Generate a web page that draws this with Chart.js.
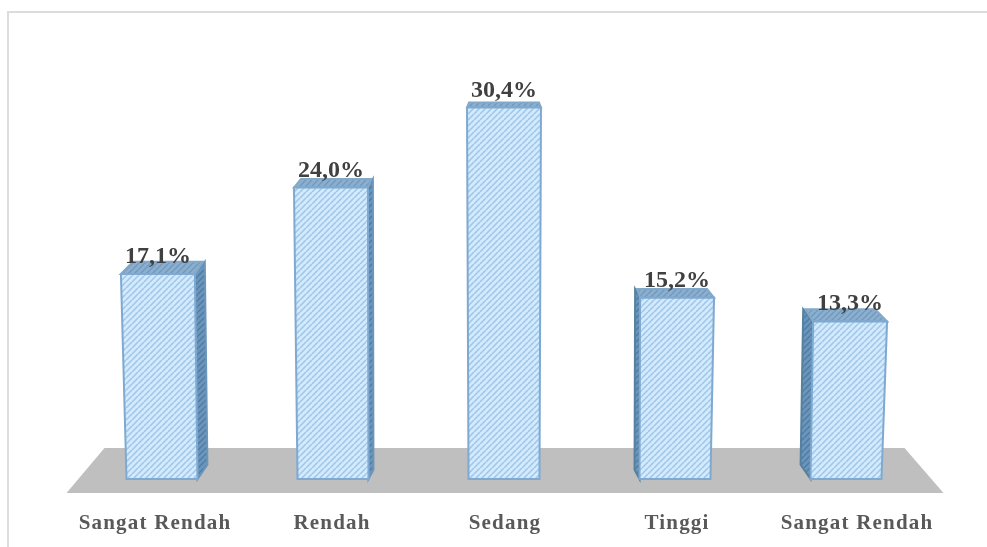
<!DOCTYPE html>
<html>
<head>
<meta charset="utf-8">
<script src="https://cdn.jsdelivr.net/npm/chart.js@4"></script>
<style>
html, body { margin: 0; padding: 0; background: #fff; overflow: hidden; }
#canvas-wrapper { position: relative; width: 987px; height: 547px; }
#frame { position: absolute; left: 7px; top: 11px; width: 980px; height: 536px; border-top: 2px solid #dcdcdc; border-left: 2px solid #dcdcdc; }
#chart { position: absolute; left: 0; top: 0; }
</style>
</head>
<body>
<div id="canvas-wrapper">
    <div id="frame"></div>
    <canvas id="chart" width="987" height="547"></canvas>
</div>
<script>
const categories = ["Sangat Rendah", "Rendah", "Sedang", "Tinggi", "Sangat Rendah"];
const percentValues = [17.1, 24.0, 30.4, 15.2, 13.3];
const labelNudge = [-7, -1, 1, 2, 11];

const serif = '"Liberation Serif", serif';

function hatch(bg, stripe) {
    const size = 6;
    const c = document.createElement("canvas");
    c.width = size;
    c.height = size;
    const g = c.getContext("2d");
    g.fillStyle = bg;
    g.fillRect(0, 0, size, size);
    g.strokeStyle = stripe;
    g.lineWidth = 1.5;
    [-size, 0, size].forEach(a => {
        g.beginPath();
        g.moveTo(a, size);
        g.lineTo(a + size, 0);
        g.stroke();
    });
    return g.createPattern(c, "repeat");
}

function poly(ctx, pts, fill, stroke) {
    ctx.beginPath();
    pts.forEach((p, i) => i ? ctx.lineTo(p[0], p[1]) : ctx.moveTo(p[0], p[1]));
    ctx.closePath();
    ctx.fillStyle = fill;
    ctx.fill();
    if (stroke) {
        ctx.strokeStyle = stroke;
        ctx.lineWidth = 2;
        ctx.stroke();
    }
}

const sidePattern = hatch("#6b95ba", "#4f7ca3");
const topPattern = hatch("#8cafcf", "#7199bd");

// fake 3d: the floor and the slanted boxes are worked out from the bar elements
const box3d = {
    id: "box3d",
    beforeDraw(chart) {
        // the chart resets the canvas on setup, so the spacing goes on here
        chart.ctx.letterSpacing = "1.2px";
    },
    beforeDatasetDraw(chart, args) {
        const ctx = chart.ctx;
        const area = chart.chartArea;
        const mid = (area.left + area.right) / 2;

        poly(ctx, [
            [area.left - 10, area.bottom + 14],
            [area.left + 28, area.bottom - 31],
            [area.right - 27, area.bottom - 31],
            [area.right + 12, area.bottom + 14]
        ], "#bfbfbf");

        args.meta.data.forEach(bar => {
            const off = bar.x - mid;
            const half = bar.width / 2;
            const lean = off * 0.012;
            const flare = 1.5;
            const dx = -off * 0.029;
            const dyTop = -5 - Math.abs(off) * 0.021;
            const dyBase = -4 - Math.abs(off) * 0.03;

            const fl = [bar.x - half, bar.base];
            const fr = [bar.x + half, bar.base];
            const tl = [bar.x - half + lean - flare, bar.y];
            const tr = [bar.x + half + lean + flare, bar.y];

            // side face shows on the side facing the middle
            if (off < -1) {
                poly(ctx, [tr, [tr[0] + dx, tr[1] + dyTop], [fr[0] + dx, fr[1] + dyBase], fr], sidePattern, "#6b95ba");
            } else if (off > 1) {
                poly(ctx, [tl, [tl[0] + dx, tl[1] + dyTop], [fl[0] + dx, fl[1] + dyBase], fl], sidePattern, "#55819f");
            }
            poly(ctx, [tl, [tl[0] + dx + 2, tl[1] + dyTop], [tr[0] + dx - 2, tr[1] + dyTop], tr], topPattern, "#82a8ca");
            poly(ctx, [tl, tr, fr, fl], bar.options.backgroundColor, "#7fa9d0");
        });

        return false;
    },
    afterDatasetsDraw(chart) {
        const ctx = chart.ctx;
        const area = chart.chartArea;
        const mid = (area.left + area.right) / 2;
        ctx.save();
        ctx.letterSpacing = "0px";
        ctx.font = "bold 24px " + serif;
        ctx.fillStyle = "#404040";
        ctx.textAlign = "center";
        ctx.textBaseline = "alphabetic";
        chart.getDatasetMeta(0).data.forEach((bar, i) => {
            const text = percentValues[i].toFixed(1).replace(".", ",") + "%";
            ctx.fillText(text, bar.x + (bar.x - mid) * 0.012, bar.y - 11);
        });
        ctx.restore();
    }
};

new Chart(document.querySelector("#chart").getContext("2d"), {
    type: "bar",
    data: {
        labels: categories,
        datasets: [{
            data: percentValues,
            base: 0.7,
            backgroundColor: hatch("#d3e9fc", "#9cc6ea"),
            barPercentage: 0.415,
            categoryPercentage: 1
        }]
    },
    options: {
        responsive: false,
        animation: false,
        layout: { padding: { left: 76.5, right: 55.5, top: 40, bottom: 8 } },
        plugins: { legend: { display: false }, tooltip: { enabled: false } },
        scales: {
            x: {
                afterFit(scale) {
                    scale.height = 60;
                    // tick labels sit a little off the bars in the reference
                    const tickPixel = scale.constructor.prototype.getPixelForTick;
                    scale.getPixelForTick = function (i) {
                        return tickPixel.call(this, i) + labelNudge[i];
                    };
                },
                grid: { display: false },
                border: { display: false },
                ticks: {
                    color: "#595959",
                    padding: 24,
                    maxRotation: 0,
                    autoSkip: false,
                    font: { family: serif, size: 21, weight: "bold" }
                }
            },
            y: { display: false, min: 0.7, max: 35.8 }
        }
    },
    plugins: [box3d]
});
</script>
</body>
</html>
